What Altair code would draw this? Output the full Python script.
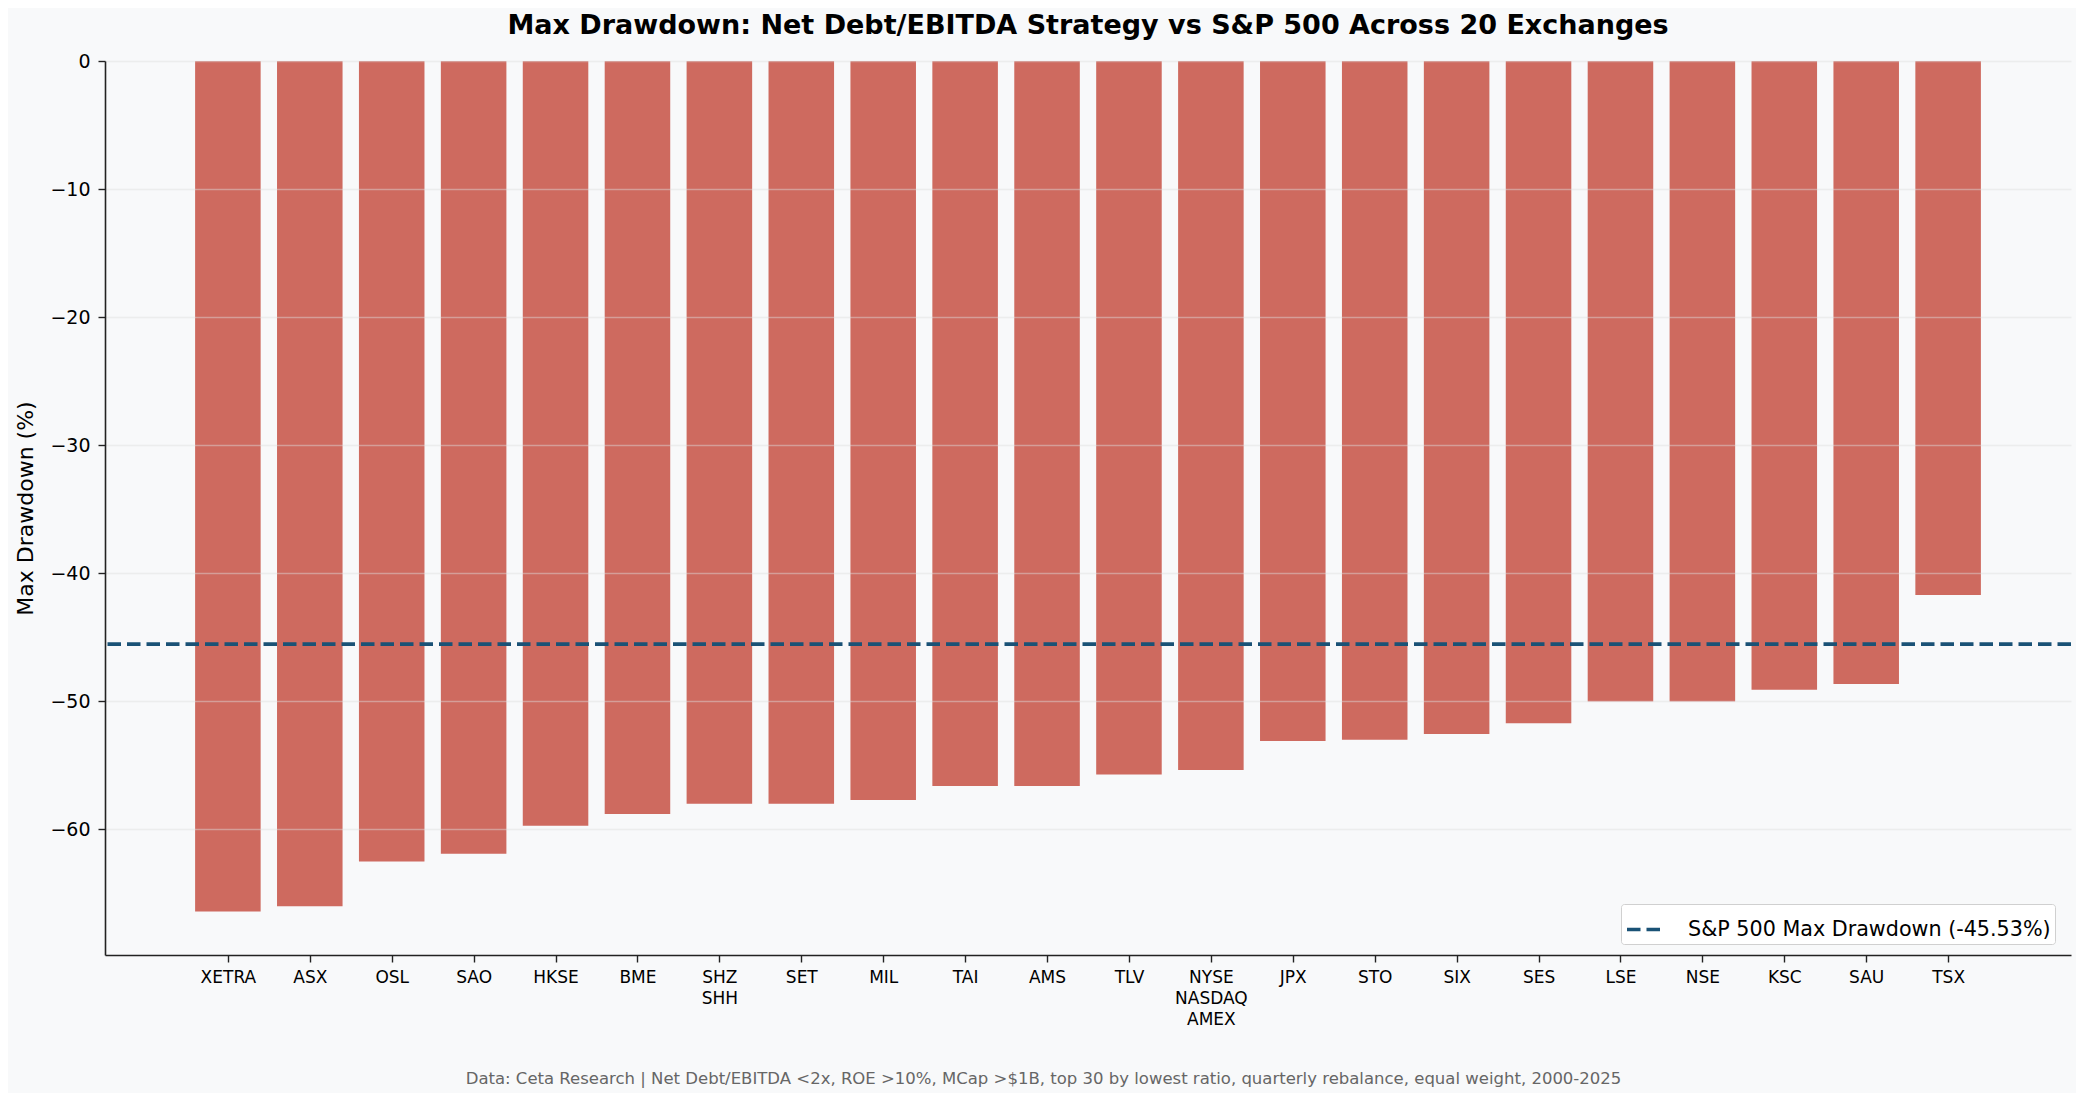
import json
import altair as alt
import pandas as pd

exchanges = ["XETRA", "ASX", "OSL", "SAO", "HKSE", "BME", "SHZ\nSHH", "SET", "MIL", "TAI",
             "AMS", "TLV", "NYSE\nNASDAQ\nAMEX", "JPX", "STO", "SIX", "SES", "LSE", "NSE",
             "KSC", "SAU", "TSX"]
drawdowns = [-66.4, -66.0, -62.5, -61.9, -59.7, -58.8, -58.0, -58.0, -57.7, -56.6,
             -56.6, -55.7, -55.35, -53.1, -53.0, -52.55, -51.7, -50.0, -50.0,
             -49.1, -48.65, -41.7]
sp500_dd = -45.53
sp500_label = "S&P 500 Max Drawdown (-45.53%)"
y_ticks = [0, -10, -20, -30, -40, -50, -60]

title_text = "Max Drawdown: Net Debt/EBITDA Strategy vs S&P 500 Across 20 Exchanges"
footnote = ("Data: Ceta Research | Net Debt/EBITDA <2x, ROE >10%, MCap >$1B, "
            "top 30 by lowest ratio, quarterly rebalance, equal weight, 2000-2025")

FONT = "DejaVu Sans"
W, H = 1966, 894
BAR_W = 0.8

df = pd.DataFrame({"exchange": exchanges, "dd": drawdowns,
                   "idx": list(range(len(exchanges)))})
ref = pd.DataFrame({"v": [sp500_dd], "label": [sp500_label]})

label_arr = json.dumps(exchanges)

bars = alt.Chart(df).transform_calculate(
    x0=f"datum.idx - {BAR_W / 2}", x1=f"datum.idx + {BAR_W / 2}"
).mark_bar(color="#c0392b", opacity=0.75).encode(
    x=alt.X("x0:Q",
            scale=alt.Scale(domain=[-1.5, len(exchanges) + 0.5], nice=False, zero=False),
            axis=alt.Axis(
                values=list(range(len(exchanges))),
                labelExpr=f"split({label_arr}[datum.value], '\\n')",
                labelAngle=0, labelFont=FONT, labelFontSize=17, labelColor="#000000",
                labelLineHeight=21, labelPadding=7, labelBaseline="top",
                labelAlign="center", labelFlush=False, labelOverlap=False,
                tickSize=7, tickWidth=1.4, tickColor="#222222",
                domainColor="#222222", domainWidth=1.6, grid=False,
                title=footnote, titleFont=FONT, titleFontSize=16.5,
                titleFontWeight="normal", titleColor="#666666",
                titleX=938, titleY=128, titleAlign="center",
                titleBaseline="alphabetic", zindex=1)),
    x2="x1:Q",
    y=alt.Y("dd:Q",
            scale=alt.Scale(domain=[-69.8, 0], nice=False, zero=False),
            axis=alt.Axis(
                values=y_ticks,
                labelExpr="datum.value < 0 ? '\u2212' + abs(datum.value) : '' + datum.value",
                labelFont=FONT, labelFontSize=19, labelColor="#000000", labelPadding=8,
                tickSize=7, tickWidth=1.4, tickColor="#222222",
                domainColor="#222222", domainWidth=1.6,
                grid=True, gridColor="#dddddd", gridOpacity=0.45, gridWidth=1.4,
                title="Max Drawdown (%)", titleFont=FONT, titleFontSize=22,
                titleFontWeight="normal", titleColor="#000000",
                titleAngle=-90, titleX=-80, titleY=H / 2, titleAlign="center",
                titleBaseline="middle", zindex=1)),
    y2=alt.datum(0),
)

line = alt.Chart(ref).mark_rule(strokeDash=[13.5, 6], strokeWidth=3.6).encode(
    y=alt.Y("v:Q"),
    stroke=alt.Stroke("label:N", scale=alt.Scale(range=["#1a5276"]),
                      legend=alt.Legend(
                          title=None, orient="none", legendX=1516, legendY=843,
                          symbolType="stroke", symbolSize=1521, symbolStrokeWidth=3.6,
                          symbolDash=[13.5, 6], labelFont=FONT, labelFontSize=20.7,
                          labelColor="#000000", labelLimit=600, labelOffset=20,
                          padding=4, fillColor="#ffffff", strokeColor="#d0d0d0",
                          cornerRadius=3)),
)

chart = alt.layer(bars, line).properties(
    width=W, height=H,
    title=alt.TitleParams(title_text, font=FONT, fontSize=27, fontWeight="bold",
                          color="#000000", anchor="middle", frame="group", offset=12),
    autosize=alt.AutoSizeParams(type="none"),
    padding={"left": 97, "top": 53, "right": 5, "bottom": 138},
).configure(background="#f8f9fa").configure_view(stroke=None, fill="#f8f9fa")

chart.save("out.html", embed_options={"renderer": "svg", "actions": False})
